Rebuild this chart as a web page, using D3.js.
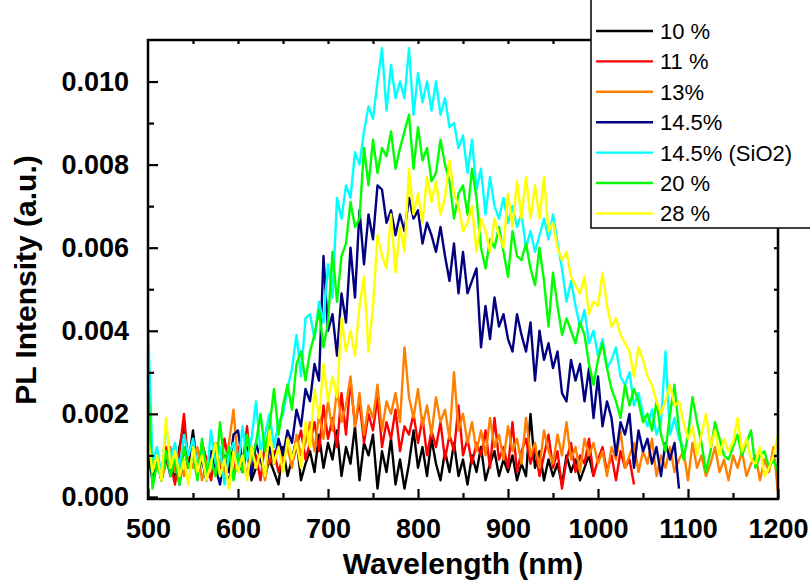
<!DOCTYPE html>
<html>
<head>
<meta charset="utf-8">
<script src="https://cdn.jsdelivr.net/npm/d3@7"></script>
<style>
  body { margin: 0; background: #fff; }
  svg { display: block; font-family: 'Liberation Sans', Arial, sans-serif; }
</style>
</head>
<body>
<div id="container"></div>
<script>
// wavelength grid: 500 nm, step 5 nm. intensities in units of 1e-3 (a.u.)
const startNm = 500;
const stepNm = 5;

const black10 = [
  1.4, 0.5, 0.9, 0.4, 1.1, 0.7, 0.5, 1.2, 1.7, 0.8,
  1.6, 0.6, 1.0, 0.4, 0.9, 1.3, 0.5, 0.8, 0.3, 1.1,
  0.9, 0.6, 1.2, 0.4, 0.7, 1.0, 0.5, 0.9, 0.6, 0.3,
  1.2, 0.5, 0.9, 1.4, 0.4, 0.8, 1.1, 0.6, 1.5, 0.7,
  1.3, 0.9, 1.6, 0.5, 1.2, 0.8, 1.7, 0.4, 1.3, 1.0,
  1.5, 0.2, 1.1, 0.6, 1.4, 0.3, 0.9, 0.2, 0.8, 1.6,
  0.7, 1.2, 0.5, 1.4, 0.8, 0.4, 1.1, 0.6, 1.3, 0.5,
  0.9, 0.3, 1.0, 0.6, 1.2, 0.4, 0.8, 1.1, 0.5, 0.9,
  0.6, 1.0, 0.4, 0.8, 0.5, 2.0, 0.7, 1.1, 0.4, 0.9,
  0.5, 0.8, 0.3, 1.0, 0.6, 0.9, 0.4, 0.7, 1.0, 0.5
];

const red11 = [
  1.3, 0.6, 1.0, 0.4, 1.2, 0.8, 0.3, 1.1, 2.0, 0.7,
  1.0, 0.5, 1.3, 0.9, 0.4, 1.1, 0.6, 1.4, 0.8, 0.5,
  1.2, 0.7, 1.7, 0.6, 1.0, 0.4, 1.3, 0.8, 1.1, 0.6,
  0.9, 1.4, 0.8, 1.2, 1.6, 0.9, 1.3, 1.8, 1.1, 2.2,
  1.4, 1.9, 1.2, 2.5, 1.5, 2.8, 1.7, 2.3, 1.3, 2.0,
  1.6, 2.4, 1.2, 1.8, 1.4, 2.1, 1.1, 1.7, 1.5, 2.0,
  1.3, 1.9, 1.0, 1.6, 1.2, 1.8, 0.9, 1.5, 1.1, 2.2,
  1.0, 1.4, 0.8, 1.3, 1.0, 1.6, 0.7, 1.9, 0.9, 1.2,
  0.7, 1.8, 0.6, 1.1, 1.4, 0.8, 1.2, 0.5, 1.0, 1.5,
  0.7, 1.1, 0.2, 0.9, 1.3, 0.6, 1.0, 0.8, 1.4, 0.5,
  0.9, 1.2, 0.6, 1.0, 0.4, 1.1, 0.7, 0.9, 0.3
];

const orange13 = [
  0.9, 0.5, 1.1, 0.4, 0.8, 1.2, 0.6, 0.9, 0.5, 1.0,
  0.7, 1.2, 0.4, 0.8, 1.1, 0.6, 0.9, 0.5, 1.3, 2.1,
  0.8, 1.0, 0.5, 1.2, 0.7, 0.9, 0.4, 1.1, 0.8, 1.3,
  0.9, 1.2, 0.7, 1.5, 1.0, 1.3, 1.8, 1.1, 2.0, 1.4,
  2.3, 1.6, 2.6, 1.8, 2.2, 2.9, 1.7, 2.5, 1.5, 2.2,
  1.9, 2.7, 1.6, 2.3, 2.0, 2.5, 1.8, 3.6, 2.4, 1.9,
  2.6, 1.7, 2.2, 1.5, 2.4, 1.8, 2.1, 1.4, 3.0, 1.6,
  2.0, 1.3, 1.8, 1.1, 1.6, 1.0, 1.9, 1.2, 1.5, 0.9,
  1.7, 1.1, 1.4, 0.8, 1.9, 1.0, 1.3, 0.7, 1.6, 1.1,
  0.8, 1.5, 1.0, 1.8, 0.9, 1.2, 0.6, 1.4, 1.0, 1.3,
  0.8, 1.1, 0.5, 1.2, 0.9, 1.6, 0.7, 1.0, 1.3, 0.6,
  1.1, 0.8, 1.4, 0.5, 1.0, 0.7, 1.2, 0.6, 0.9, 1.1,
  0.4, 1.3, 0.7, 1.0, 0.5, 0.8, 1.2, 0.6, 0.9, 0.4,
  1.0, 0.7, 1.1, 0.5, 0.8, 1.0, 0.4, 0.9, 0.6, 1.2,
  0.1
];

const navy145 = [
  1.1, 0.4, 0.8, 0.6, 1.0, 0.5, 0.9, 0.3, 1.2, 0.7,
  1.4, 0.6, 0.9, 0.4, 1.1, 0.7, 0.3, 1.0, 0.6, 1.5,
  1.6, 0.8, 1.1, 0.5, 1.3, 0.9, 0.6, 1.2, 0.8, 1.4,
  1.0, 1.6, 1.3, 2.1, 1.7, 2.6, 2.3, 3.2, 2.8, 5.8,
  4.0, 4.4, 3.4, 4.9, 4.2, 6.0, 4.8, 6.9, 5.6, 6.8,
  6.2, 7.5, 7.4, 6.6, 6.9, 6.3, 6.8, 6.4, 7.2, 6.7,
  6.9, 6.1, 6.6, 6.3, 5.9, 6.5, 5.8, 5.2, 6.1, 4.9,
  5.9, 4.9, 5.2, 5.5, 3.6, 4.6, 3.8, 4.8, 4.1, 4.4,
  3.8, 3.5, 4.4, 3.9, 3.5, 4.2, 2.8, 4.0, 3.3, 3.7,
  3.1, 3.5, 2.5, 2.3, 3.3, 2.8, 3.2, 2.3, 3.1, 1.9,
  2.9, 1.7, 2.3, 1.9, 1.0, 1.8, 1.5, 2.0, 0.7, 1.6,
  1.1, 1.4, 0.8, 1.2, 0.5, 1.3, 0.9, 1.3, 0.2
];

const cyan145SiO2 = [
  4.2, 0.8, 1.2, 0.5, 1.7, 0.9, 1.3, 0.6, 1.5, 1.0,
  1.4, 0.7, 1.1, 0.4, 1.6, 0.8, 1.2, 0.3, 1.0, 1.3,
  0.7, 1.7, 0.9, 1.4, 2.3, 1.1, 1.5, 2.0, 1.2, 1.8,
  2.0, 2.6, 3.1, 3.9, 2.9, 4.3, 4.4, 3.8, 4.7, 4.2,
  5.6, 4.8, 7.2, 6.7, 7.5, 7.2, 8.3, 8.0, 8.8, 9.4,
  9.1, 10.0, 10.8, 9.3, 10.4, 9.6, 10.0, 9.6, 10.8, 9.2,
  10.2, 9.5, 10.0, 9.3, 10.0, 9.2, 9.6, 8.9, 9.0, 8.4,
  8.7, 7.8, 8.6, 7.4, 7.9, 6.8, 7.7, 7.0, 6.7, 7.2,
  6.6, 7.0, 6.5, 6.8, 6.0, 6.4, 5.9, 6.3, 6.7, 6.2,
  6.8, 6.1, 5.5, 4.7, 5.2, 4.6, 4.1, 4.5, 3.7, 4.0,
  3.4, 3.8, 3.1, 3.3, 3.6, 2.9, 2.7, 3.0, 2.2, 2.5,
  2.0, 1.7, 2.1, 1.5, 1.8, 3.5, 1.5, 1.9, 1.4, 1.2
];

const green20 = [
  3.0, 0.2, 0.8, 0.4, 1.1, 0.5, 0.9, 0.3, 1.2, 0.7,
  1.0, 0.4, 1.4, 0.6, 0.9, 0.5, 1.8, 0.8, 1.2, 0.4,
  1.0, 0.6, 1.5, 0.9, 1.3, 2.0, 1.1, 1.7, 2.6, 1.5,
  2.2, 2.7, 2.1, 3.2, 3.5, 2.8, 3.5, 3.9, 4.5, 3.6,
  4.2, 5.9, 4.7, 5.8, 6.1, 7.1, 6.5, 6.7, 8.4, 7.5,
  8.6, 7.8, 8.4, 8.2, 8.8, 7.9, 8.4, 8.8, 9.2, 7.9,
  8.9, 8.1, 8.4, 7.6, 7.8, 8.6, 8.0, 7.6, 6.7, 7.3,
  7.5, 6.8, 7.9, 7.2, 6.0, 5.5, 6.2, 6.0, 6.5, 5.9,
  5.3, 6.4, 5.8, 5.7, 6.1, 5.5, 5.1, 6.0, 5.2, 4.1,
  5.4, 4.6, 3.9, 4.3, 4.0, 3.7, 4.2, 3.9, 3.2, 2.7,
  3.3, 3.7, 3.1, 2.6, 2.3, 1.9, 2.7, 2.2, 2.6, 2.3,
  1.8, 2.0, 1.6, 2.3, 1.5, 1.1, 2.0, 2.7, 1.6, 0.9,
  1.5, 2.4, 1.8, 1.3, 0.6, 1.1, 1.8, 1.4, 1.0, 0.9,
  1.2, 1.5, 1.0, 1.3, 1.6, 0.7, 1.0, 1.1, 0.7, 0.9,
  0.6
];

const yellow28 = [
  1.4, 0.6, 1.0, 0.4, 1.9, 0.7, 1.1, 0.5, 0.9, 0.3,
  1.2, 0.6, 1.0, 0.4, 0.8, 1.3, 0.5, 0.9, 0.2, 1.1,
  0.6, 1.0, 0.4, 1.2, 0.7, 1.1, 0.5, 1.6, 0.8, 1.2,
  0.6, 1.4, 0.9, 1.3, 0.7, 1.8, 1.2, 2.6, 1.9, 3.2,
  2.3, 2.9, 2.4, 4.3, 3.5, 4.0, 3.4, 4.6, 5.3, 3.5,
  4.6, 6.3, 5.8, 5.5, 6.8, 5.4, 6.5, 5.9, 7.9, 6.8,
  7.3, 6.6, 7.7, 7.1, 7.6, 6.8, 7.2, 8.1, 7.3, 7.0,
  6.4, 6.6, 7.0, 5.9, 6.7, 6.4, 5.9, 6.7, 6.3, 6.0,
  7.3, 6.5, 7.6, 6.7, 7.7, 6.7, 7.5, 6.7, 7.7, 6.4,
  6.6, 6.0, 5.7, 5.9, 5.3, 5.1, 4.9, 5.3, 4.4, 4.7,
  4.6, 5.4, 4.6, 4.1, 4.3, 3.9, 3.7, 3.5, 2.9, 3.6,
  3.3, 2.9, 2.7, 2.3, 2.0, 2.3, 2.7, 2.2, 2.3, 1.8,
  1.4, 1.7, 1.0, 1.5, 2.0, 1.2, 1.6, 1.0, 1.4, 1.1,
  1.3, 1.9, 1.1, 1.4, 0.9, 0.8, 1.2, 0.5, 0.7, 1.0,
  1.5
];

const seriesNames = ['10 %', '11 %', '13%', '14.5%', '14.5% (SiO2)', '20 %', '28 %'];
const seriesValues = [black10, red11, orange13, navy145, cyan145SiO2, green20, yellow28];
const seriesColors = ['#000000', '#ff0000', '#ff8000', '#000080', '#00ffff', '#00ff00', '#ffff00'];

const xTicks = [500, 600, 700, 800, 900, 1000, 1100, 1200];
const yTicks = [0, 2, 4, 6, 8, 10];

const width = 810;
const height = 581;
const plotLeft = 148, plotRight = 778, plotTop = 40, plotBottom = 499;

const svg = d3.select('#container')
  .append('svg')
  .attr('width', width)
  .attr('height', height);

const xScale = d3.scaleLinear().domain([500, 1200]).range([plotLeft, plotRight]);
const yScale = d3.scaleLinear().domain([-0.05, 11.0]).range([plotBottom, plotTop]);

// clip for the curves
svg.append('clipPath').attr('id', 'plotclip')
  .append('rect')
  .attr('x', plotLeft).attr('y', plotTop)
  .attr('width', plotRight - plotLeft).attr('height', plotBottom - plotTop);

const lineGenerator = d3.line()
  .x((d, i) => xScale(startNm + stepNm * i))
  .y(d => yScale(d));

svg.append('g')
  .attr('clip-path', 'url(#plotclip)')
  .selectAll('path')
  .data(seriesValues)
  .enter()
  .append('path')
  .attr('fill', 'none')
  .attr('stroke', (d, i) => seriesColors[i])
  .attr('stroke-width', 2.4)
  .attr('stroke-linejoin', 'round')
  .attr('d', d => lineGenerator(d));

// axes: inward ticks
const xMinor = d3.range(550, 1200, 100);
const yMinor = [1, 3, 5, 7, 9];

function styleAxis(g) {
  g.select('.domain').remove();
  g.selectAll('line').attr('stroke', '#000').attr('stroke-width', 2.2);
}

function styleLabels(g) {
  g.selectAll('text')
    .attr('font-size', 27).attr('font-weight', 'bold')
    .attr('font-family', "'Liberation Sans', Arial, sans-serif").attr('fill', '#000');
}

svg.append('g')
  .attr('transform', `translate(0,${plotBottom})`)
  .call(d3.axisBottom(xScale).tickValues(xTicks).tickSize(-10).tickPadding(20).tickFormat(d3.format('d')))
  .call(styleAxis)
  .call(styleLabels);

svg.append('g')
  .attr('transform', `translate(0,${plotBottom})`)
  .call(d3.axisBottom(xScale).tickValues(xMinor).tickSize(-6).tickFormat(''))
  .call(styleAxis);

svg.append('g')
  .attr('transform', `translate(${plotLeft},0)`)
  .call(d3.axisLeft(yScale).tickValues(yTicks).tickSize(-10).tickPadding(19).tickFormat(d => (d / 1000).toFixed(3)))
  .call(styleAxis)
  .call(styleLabels);

svg.append('g')
  .attr('transform', `translate(${plotLeft},0)`)
  .call(d3.axisLeft(yScale).tickValues(yMinor).tickSize(-6).tickFormat(''))
  .call(styleAxis);

// mirrored ticks top / right
svg.append('g')
  .attr('transform', `translate(0,${plotTop})`)
  .call(d3.axisTop(xScale).tickValues(d3.range(550, 1200, 50)).tickSize(-4).tickFormat(''))
  .call(styleAxis);

svg.append('g')
  .attr('transform', `translate(${plotRight},0)`)
  .call(d3.axisRight(yScale).tickValues(d3.range(1, 11, 1)).tickSize(-4).tickFormat(''))
  .call(styleAxis);

// frame
svg.append('rect')
  .attr('x', plotLeft).attr('y', plotTop)
  .attr('width', plotRight - plotLeft).attr('height', plotBottom - plotTop)
  .attr('fill', 'none')
  .attr('stroke', '#000')
  .attr('stroke-width', 2.5);

// axis titles
svg.append('text')
  .attr('x', 463).attr('y', 574)
  .attr('text-anchor', 'middle')
  .attr('font-size', 30).attr('font-weight', 'bold')
  .text('Wavelength (nm)');

svg.append('text')
  .attr('transform', 'translate(36,280) rotate(-90)')
  .attr('text-anchor', 'middle')
  .attr('font-size', 30).attr('font-weight', 'bold')
  .text('PL Intensity (a.u.)');

// legend (box runs off the top and right edge)
const legend = svg.append('g');
legend.append('rect')
  .attr('x', 591).attr('y', -5)
  .attr('width', 240).attr('height', 233)
  .attr('fill', '#fff')
  .attr('stroke', '#000')
  .attr('stroke-width', 1.5);

const rows = legend.selectAll('.row')
  .data(seriesNames)
  .enter()
  .append('g')
  .attr('transform', (d, i) => `translate(0,${31 + i * 30.4})`);

rows.append('line')
  .attr('x1', 596).attr('x2', 653)
  .attr('stroke', (d, i) => seriesColors[i])
  .attr('stroke-width', 2.4);

rows.append('text')
  .attr('x', 660).attr('y', 8)
  .attr('font-size', 22)
  .text(d => d);
</script>
</body>
</html>
